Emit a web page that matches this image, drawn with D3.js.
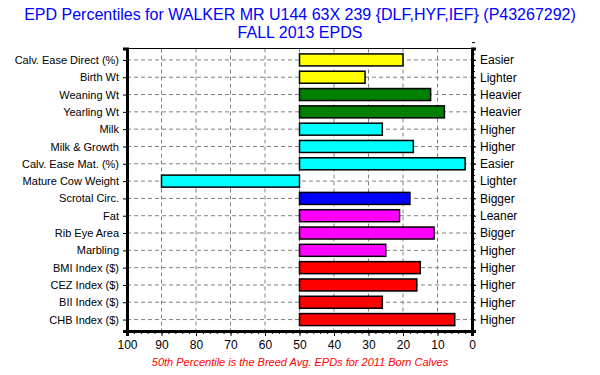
<!DOCTYPE html>
<html>
<head>
  <title>EPD Percentiles</title>
  <script src="https://d3js.org/d3.v7.min.js"></script>
  <style>
    body { margin: 0; background: #fff; }
    text { font-family: Arial, "Liberation Sans", sans-serif; }
  </style>
</head>
<body>

<div id="chart"></div>

<script>
// Traits, percentiles and the right hand words
const traits = [
  "Calv. Ease Direct (%)", "Birth Wt", "Weaning Wt", "Yearling Wt", "Milk",
  "Milk & Growth", "Calv. Ease Mat. (%)", "Mature Cow Weight", "Scrotal Circ.",
  "Fat", "Rib Eye Area", "Marbling", "BMI Index ($)", "CEZ Index ($)",
  "BII Index ($)", "CHB Index ($)"
];
const percentiles = [20, 31, 12, 8, 26, 17, 2, 90, 18, 21, 11, 25, 15, 16, 26, 5];
const directions = [
  "Easier", "Lighter", "Heavier", "Heavier", "Higher", "Higher", "Easier", "Lighter",
  "Bigger", "Leaner", "Bigger", "Higher", "Higher", "Higher", "Higher", "Higher"
];
const barColors = [
  "#ffff00", "#ffff00", "#008000", "#008000", "#00ffff", "#00ffff", "#00ffff", "#00ffff",
  "#0000ff", "#ff00ff", "#ff00ff", "#ff00ff", "#ff0000", "#ff0000", "#ff0000", "#ff0000"
];
const xTicks = [100, 90, 80, 70, 60, 50, 40, 30, 20, 10, 0];
const breedAvg = 50;

const W = 600, H = 375;
const margin = { top: 48.5, right: 128, bottom: 44, left: 127 };
const width = W - margin.left - margin.right;
const height = H - margin.top - margin.bottom;

const svg = d3.select("#chart")
  .append("svg")
  .attr("width", W)
  .attr("height", H);

// Title
svg.append("text")
  .attr("x", 300).attr("y", 20)
  .attr("text-anchor", "middle")
  .attr("fill", "#0000ff")
  .attr("font-size", 16)
  .text("EPD Percentiles for WALKER MR U144 63X 239 {DLF,HYF,IEF} (P43267292)");
svg.append("text")
  .attr("x", 300).attr("y", 38)
  .attr("text-anchor", "middle")
  .attr("fill", "#0000ff")
  .attr("font-size", 16)
  .text("FALL 2013 EPDS");

const g = svg.append("g")
  .attr("transform", `translate(${margin.left},${margin.top})`);

const x = d3.scaleLinear().domain([100, 0]).range([0, width]);
const y = d3.scalePoint().domain(traits).range([0, height]).padding(0.66);
const barH = 12;

g.append("rect")
  .attr("width", width).attr("height", height)
  .attr("fill", "#fff");

// grid
g.selectAll(".vgrid")
  .data(xTicks.filter(d => d !== 0 && d !== 100))
  .join("line")
  .attr("x1", d => x(d)).attr("x2", d => x(d))
  .attr("y1", 0).attr("y2", height)
  .attr("stroke", "#808080")
  .attr("stroke-dasharray", "4,3");

g.selectAll(".hgrid")
  .data(traits)
  .join("line")
  .attr("x1", 0).attr("x2", width)
  .attr("y1", d => y(d)).attr("y2", d => y(d))
  .attr("stroke", "#808080")
  .attr("stroke-dasharray", "4,3");

// bars from the breed average
g.selectAll(".bar")
  .data(traits)
  .join("rect")
  .attr("x", (d, i) => Math.min(x(breedAvg), x(percentiles[i])))
  .attr("y", d => y(d) - barH / 2)
  .attr("width", (d, i) => Math.abs(x(percentiles[i]) - x(breedAvg)))
  .attr("height", barH)
  .attr("fill", (d, i) => barColors[i])
  .attr("stroke", "#000")
  .attr("stroke-width", 1.5);

// frame
g.append("line").attr("x1", 0).attr("x2", width).attr("y1", 0).attr("y2", 0)
  .attr("stroke", "#000");

// left axis
const yLeft = g.append("g")
  .call(d3.axisLeft(y).tickSize(4).tickPadding(4));
yLeft.select(".domain").attr("stroke-width", 3);
yLeft.selectAll("text").attr("font-size", 11).attr("fill", "#000");

// right axis
const yRight = g.append("g")
  .attr("transform", `translate(${width},0)`)
  .call(d3.axisRight(y).tickSize(4).tickPadding(4)
    .tickFormat((d, i) => directions[i]));
yRight.select(".domain").attr("stroke-width", 3);
yRight.selectAll("text").attr("font-size", 12).attr("fill", "#000");

// minor ticks on right axis
const step = y.step();
g.selectAll(".rminor")
  .data(d3.range(0, height, step / 3))
  .join("line")
  .attr("x1", width).attr("x2", width + 3)
  .attr("y1", d => y(traits[0]) - step + d)
  .attr("y2", d => y(traits[0]) - step + d)
  .attr("stroke", "#000");

// bottom axis
const xAxis = g.append("g")
  .attr("transform", `translate(0,${height})`)
  .call(d3.axisBottom(x).tickValues(xTicks).tickSize(5).tickPadding(4)
    .tickFormat(d3.format("d")));
xAxis.select(".domain").attr("stroke-width", 3);
xAxis.selectAll("text").attr("font-size", 12).attr("fill", "#000");

g.append("g")
  .attr("transform", `translate(0,${height})`)
  .call(d3.axisBottom(x).tickValues(d3.range(0, 101, 2)).tickSize(3).tickFormat(""))
  .select(".domain").remove();

// footer
svg.append("text")
  .attr("x", 300).attr("y", 366)
  .attr("text-anchor", "middle")
  .attr("fill", "#ff0000")
  .attr("font-size", 11)
  .attr("font-style", "italic")
  .text("50th Percentile is the Breed Avg. EPDs for 2011 Born Calves");
</script>

</body>
</html>
